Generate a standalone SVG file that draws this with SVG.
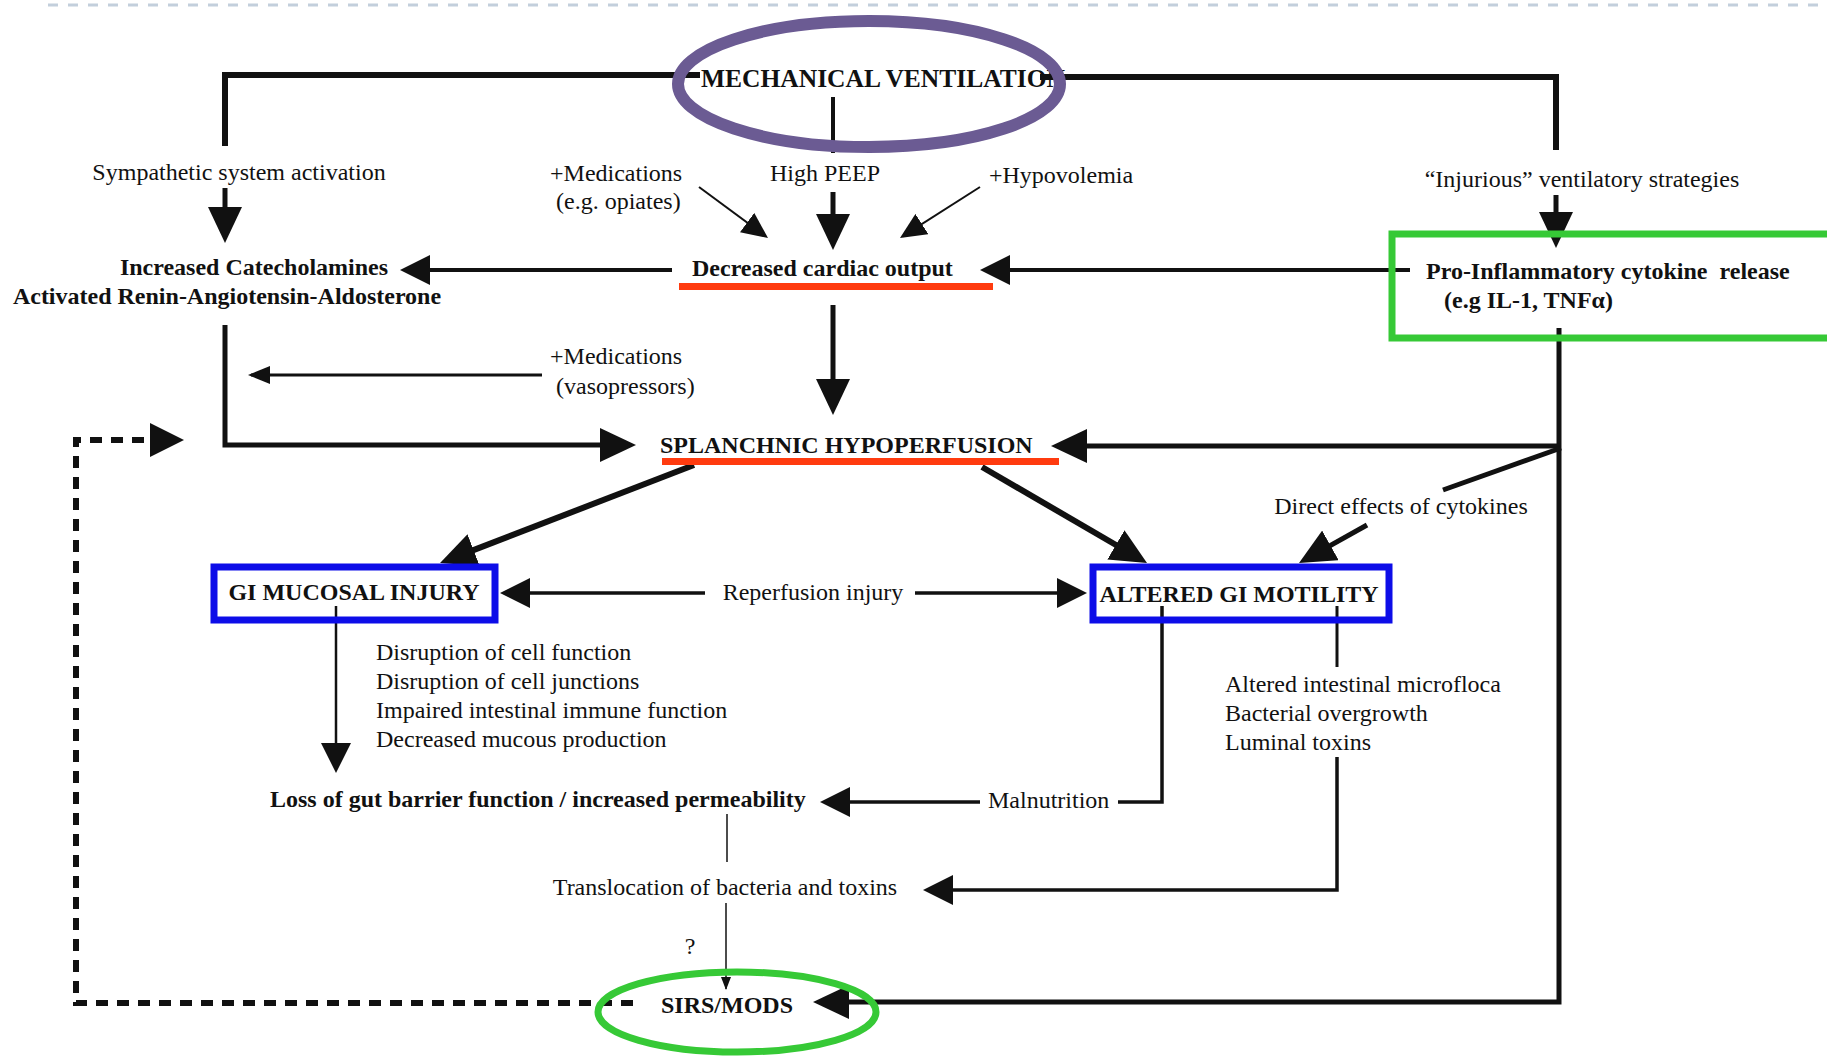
<svg xmlns="http://www.w3.org/2000/svg" width="1827" height="1057" viewBox="0 0 1827 1057">
  <style>
    .t { font-family: "Liberation Serif", "Times New Roman", "DejaVu Serif", serif; font-size: 24px; fill: #111; }
    .b { font-weight: bold; }
    .m { text-anchor: middle; }
    .big { font-size: 25.5px; }
    .ln { fill: none; stroke: #111; stroke-linejoin: miter; stroke-linecap: butt; }
    .dash { stroke-dasharray: 12 9; }
    .blue { fill: none; stroke: #0d0de8; stroke-width: 7; }
    .green { fill: none; stroke: #36c936; stroke-width: 7; }
    .red { fill: #ff3b0f; }
  </style>
  <defs>
    <marker id="ah-lg" markerUnits="userSpaceOnUse" markerWidth="36" markerHeight="34" refX="28" refY="17" orient="auto">
      <path d="M0,0 L36,17 L0,34 z" fill="#111"/>
    </marker>
    <marker id="ah-md" markerUnits="userSpaceOnUse" markerWidth="30" markerHeight="30" refX="24" refY="15" orient="auto">
      <path d="M0,0 L30,15 L0,30 z" fill="#111"/>
    </marker>
    <marker id="ah-th" markerUnits="userSpaceOnUse" markerWidth="26" markerHeight="24" refX="23" refY="12" orient="auto">
      <path d="M0,0 L26,12 L0,24 z" fill="#111"/>
    </marker>
    <marker id="ah-sm" markerUnits="userSpaceOnUse" markerWidth="22" markerHeight="18" refX="19" refY="9" orient="auto">
      <path d="M0,0 L22,9 L0,18 z" fill="#111"/>
    </marker>
    <marker id="ah-xs" markerUnits="userSpaceOnUse" markerWidth="13" markerHeight="10" refX="12" refY="5" orient="auto">
      <path d="M0,0 L13,5 L0,10 z" fill="#111"/>
    </marker>
  </defs>

  <rect x="0" y="0" width="1827" height="1057" fill="#fff"/>
  <!-- slide header rule -->
  <path d="M48,5 H1827" stroke="#c3cfdc" stroke-width="3" stroke-dasharray="10 10" fill="none"/>

  <g id="connectors">
    <!-- from mechanical ventilation -->
    <path class="ln" stroke-width="6" d="M700,75 H225 V146"/>
    <path class="ln" stroke-width="6" d="M1040,77 H1556 V150"/>
    <path class="ln" stroke-width="4" d="M833,97 V153"/>
    <path class="ln" stroke-width="5" d="M225,188 V235" marker-end="url(#ah-lg)"/>
    <path class="ln" stroke-width="5" d="M1556,195 V240" marker-end="url(#ah-lg)"/>
    <path class="ln" stroke-width="5" d="M833,192 V242" marker-end="url(#ah-lg)"/>
    <path class="ln" stroke-width="2" d="M699,187 L765.6,236.2" marker-end="url(#ah-th)"/>
    <path class="ln" stroke-width="2" d="M980,187 L902.5,236.4" marker-end="url(#ah-th)"/>
    <!-- around decreased cardiac output -->
    <path class="ln" stroke-width="4" d="M672,270 H406" marker-end="url(#ah-md)"/>
    <path class="ln" stroke-width="4" d="M1410,270 H986" marker-end="url(#ah-md)"/>
    <path class="ln" stroke-width="5" d="M833,305 V407" marker-end="url(#ah-lg)"/>
    <path class="ln" stroke-width="3" d="M542,375 H251" marker-end="url(#ah-sm)"/>
    <path class="ln" stroke-width="5" d="M225,325 V445 H628" marker-end="url(#ah-lg)"/>
    <!-- feedback loop from SIRS/MODS -->
    <path class="ln dash" stroke-width="6" d="M633,1003 H76 V440 H145"/>
    <path d="M150,423 L184,440 L150,457 z" fill="#111"/>
    <!-- cytokine paths -->
    <path class="ln" stroke-width="5" d="M1559,328 V1002 H821" marker-end="url(#ah-lg)"/>
    <path class="ln" stroke-width="5" d="M1559,446 H1059" marker-end="url(#ah-lg)"/>
    <path class="ln" stroke-width="5" d="M1561,448 L1443,490"/>
    <path class="ln" stroke-width="5" d="M1367,525 L1306,559.1" marker-end="url(#ah-lg)"/>
    <!-- splanchnic hypoperfusion branches -->
    <path class="ln" stroke-width="6" d="M982,467 L1140.1,559" marker-end="url(#ah-lg)"/>
    <path class="ln" stroke-width="6" d="M694,465 L447.5,560.1" marker-end="url(#ah-lg)"/>
    <path class="ln" stroke-width="3.5" d="M705,593 H506" marker-end="url(#ah-md)"/>
    <path class="ln" stroke-width="3.5" d="M915,593 H1081" marker-end="url(#ah-md)"/>
    <!-- gut barrier -->
    <path class="ln" stroke-width="2.5" d="M336,606 V767" marker-end="url(#ah-md)"/>
    <path class="ln" stroke-width="3.5" d="M980,802 H826" marker-end="url(#ah-md)"/>
    <path class="ln" stroke-width="3.5" d="M1118,802 H1162 V606"/>
    <path class="ln" stroke-width="3" d="M1337,606 V667"/>
    <path class="ln" stroke-width="3.5" d="M1337,757 V890 H929" marker-end="url(#ah-md)"/>
    <path class="ln" stroke-width="1.5" d="M727,814 V862"/>
    <path class="ln" stroke-width="1.5" d="M726,903 V989" marker-end="url(#ah-xs)"/>
  </g>

  <g id="labels">
    <text class="t m" x="239" y="180">Sympathetic system activation</text>
    <text class="t" x="550" y="181">+Medications</text>
    <text class="t" x="556" y="209">(e.g. opiates)</text>
    <text class="t m" x="825" y="181">High PEEP</text>
    <text class="t" x="989" y="183">+Hypovolemia</text>
    <text class="t m" x="1582" y="187">“Injurious” ventilatory strategies</text>
    <text class="t" x="550" y="364">+Medications</text>
    <text class="t" x="556" y="394">(vasopressors)</text>
    <text class="t m" x="1401" y="514">Direct effects of cytokines</text>
    <text class="t m" x="813" y="600">Reperfusion injury</text>
    <text class="t" x="376" y="660">Disruption of cell function</text>
    <text class="t" x="376" y="689">Disruption of cell junctions</text>
    <text class="t" x="376" y="718">Impaired intestinal immune function</text>
    <text class="t" x="376" y="747">Decreased mucous production</text>
    <text class="t" x="1225" y="692">Altered intestinal microfloca</text>
    <text class="t" x="1225" y="721">Bacterial overgrowth</text>
    <text class="t" x="1225" y="750">Luminal toxins</text>
    <text class="t" x="988" y="808">Malnutrition</text>
    <text class="t m" x="725" y="895">Translocation of bacteria and toxins</text>
    <text class="t m" x="690" y="954">?</text>
  </g>

  <g id="mechanical-ventilation">
    <text class="t b big" x="701" y="87">MECHANICAL VENTILATION</text>
    <ellipse cx="869" cy="84" rx="191" ry="63" fill="none" stroke="#6b5b93" stroke-width="12"/>
  </g>

  <g id="catecholamines">
    <text class="t b m" x="254" y="275">Increased Catecholamines</text>
    <text class="t b m" x="227" y="304">Activated Renin-Angiotensin-Aldosterone</text>
  </g>

  <g id="decreased-cardiac-output">
    <text class="t b" x="692" y="276">Decreased cardiac output</text>
    <rect class="red" x="679" y="283" width="314" height="7"/>
  </g>

  <g id="cytokine-release">
    <rect class="green" x="1392" y="234" width="460" height="104"/>
    <text class="t b" x="1426" y="279" xml:space="preserve">Pro-Inflammatory cytokine  release</text>
    <text class="t b" x="1444" y="308">(e.g IL-1, TNFα)</text>
  </g>

  <g id="splanchnic-hypoperfusion">
    <text class="t b" x="660" y="453">SPLANCHNIC HYPOPERFUSION</text>
    <rect class="red" x="662" y="458" width="397" height="7"/>
  </g>

  <g id="gi-mucosal-injury">
    <rect class="blue" x="214" y="567" width="281" height="53"/>
    <text class="t b m" x="354" y="600">GI MUCOSAL INJURY</text>
  </g>

  <g id="altered-gi-motility">
    <rect class="blue" x="1093" y="567" width="296" height="53"/>
    <text class="t b m" x="1239" y="602">ALTERED GI MOTILITY</text>
  </g>

  <g id="gut-barrier-loss">
    <text class="t b" x="270" y="807">Loss of gut barrier function / increased permeability</text>
  </g>

  <g id="sirs-mods">
    <ellipse class="green" cx="737" cy="1012" rx="139" ry="40"/>
    <text class="t b m" x="727" y="1013">SIRS/MODS</text>
  </g>
</svg>
